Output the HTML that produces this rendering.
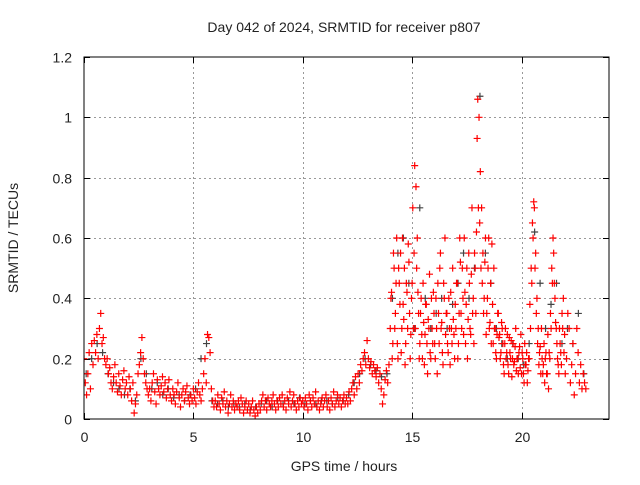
<!DOCTYPE html>
<html><head><meta charset="utf-8"><style>
body{margin:0;background:#fff}
svg text{font-family:"Liberation Sans",sans-serif;font-size:14px;fill:#222}
</style></head><body>
<svg id="chart" width="640" height="480" xmlns="http://www.w3.org/2000/svg">
<rect width="640" height="480" fill="#fff"/>
<text x="344" y="32" text-anchor="middle">Day 042 of 2024, SRMTID for receiver p807</text>
<text x="344" y="471" text-anchor="middle">GPS time / hours</text>
<text x="18" y="238" text-anchor="middle" transform="rotate(-90 18 238)">SRMTID / TECUs</text>
<g id="grid"></g>
<g id="ticks"></g>
<defs><clipPath id="clip"><rect x="84" y="57" width="525" height="362"/></clipPath></defs>
<g id="marks" clip-path="url(#clip)"></g>
<rect x="84" y="57" width="525" height="362" fill="none" stroke="#000" stroke-width="1"/>
</svg>
<script>
const xTicks=[0,5,10,15,20];
const yTicks=[0,0.2,0.4,0.6,0.8,1,1.2];
const yTickLabels=["0","0.2","0.4","0.6","0.8","1","1.2"];
const redStep=1/17;
const redValues=[
0.2,0.12,0.08,0.15,0.22,0.1,0.25,0.18,0.26,0.22,0.28,0.2,0.3,0.35,0.25,0.27,0.2,
0.18,0.2,0.15,0.17,0.12,0.1,0.14,0.18,0.12,0.09,0.15,0.11,0.08,0.13,0.16,0.1,0.12,
0.08,0.14,0.1,0.06,0.12,0.02,0.05,0.08,0.15,0.18,0.22,0.27,0.2,0.15,0.12,0.1,0.08,
0.1,0.06,0.12,0.15,0.09,0.05,0.13,0.1,0.08,0.11,0.14,0.09,0.12,0.07,0.1,0.13,0.08,
0.06,0.1,0.08,0.05,0.09,0.12,0.07,0.04,0.08,0.1,0.06,0.09,0.11,0.07,0.05,0.08,0.06,
0.1,0.07,0.05,0.09,0.12,0.08,0.06,0.1,0.15,0.2,0.12,0.28,0.27,0.22,0.1,0.06,0.04,
0.06,0.04,0.08,0.05,0.03,0.07,0.05,0.09,0.04,0.06,0.02,0.05,0.08,0.04,0.06,0.03,0.05,
0.04,0.06,0.03,0.07,0.05,0.02,0.04,0.06,0.03,0.05,0.02,0.04,0.06,0.03,0.01,0.04,0.02,
0.05,0.03,0.06,0.08,0.04,0.06,0.03,0.07,0.05,0.04,0.06,0.08,0.05,0.03,0.06,0.04,0.07,
0.05,0.08,0.04,0.06,0.03,0.07,0.05,0.09,0.04,0.06,0.08,0.05,0.03,0.06,0.04,0.07,0.05,
0.06,0.04,0.07,0.05,0.03,0.08,0.06,0.04,0.07,0.05,0.09,0.04,0.06,0.03,0.05,0.07,0.04,
0.06,0.08,0.04,0.06,0.03,0.07,0.05,0.09,0.04,0.06,0.08,0.05,0.07,0.04,0.06,0.08,0.05,
0.07,0.05,0.09,0.06,0.1,0.12,0.08,0.14,0.1,0.15,0.12,0.18,0.16,0.2,0.22,0.18,0.26,
0.2,0.17,0.19,0.15,0.18,0.16,0.14,0.17,0.12,0.15,0.1,0.05,0.08,0.13,0.16,0.12,0.18,
0.3,0.42,0.25,0.5,0.35,0.6,0.2,0.45,0.55,0.3,0.38,0.5,0.25,0.42,0.58,0.35,0.28,
0.45,0.3,0.84,0.77,0.6,0.35,0.25,0.4,0.2,0.32,0.28,0.38,0.15,0.3,0.22,0.4,0.25,
0.35,0.2,0.3,0.45,0.25,0.55,0.32,0.18,0.4,0.28,0.35,0.22,0.3,0.42,0.25,0.33,0.2,
0.3,0.45,0.25,0.6,0.35,0.5,0.28,0.42,0.38,0.2,0.55,0.3,0.48,0.35,0.25,0.5,0.62,
1.06,1.0,0.82,0.7,0.55,0.4,0.6,0.35,0.5,0.3,0.45,0.58,0.25,0.3,0.22,0.28,0.35,
0.28,0.22,0.3,0.18,0.25,0.2,0.28,0.15,0.22,0.26,0.2,0.18,0.24,0.16,0.2,0.22,0.17,
0.15,0.2,0.12,0.18,0.22,0.16,0.2,0.3,0.45,0.6,0.7,0.55,0.4,0.3,0.22,0.15,0.2,
0.18,0.12,0.22,0.15,0.1,0.2,0.3,0.45,0.55,0.4,0.3,0.2,0.15,0.25,0.18,0.3,0.22,
0.15,0.2,0.35,0.3,0.12,0.18,0.25,0.08,0.15,0.3,0.22,0.12,0.18,0.1,0.15,0.12,0.1];
const red2Start=14.03;
const red2Values=[
0.4,0.2,0.55,0.3,0.45,0.25,0.5,0.38,0.22,0.6,0.33,0.18,0.45,0.3,0.52,0.2,0.4,
0.7,0.55,0.3,0.5,0.42,0.2,0.35,0.28,0.45,0.18,0.38,0.25,0.33,0.48,0.2,0.3,0.42,
0.25,0.4,0.15,0.35,0.5,0.3,0.22,0.45,0.6,0.35,0.25,0.4,0.18,0.3,0.5,0.28,0.38,
0.45,0.2,0.35,0.52,0.3,0.4,0.6,0.25,0.5,0.33,0.45,0.28,0.7,0.4,0.55,0.35,0.93,
0.7,0.65,0.5,0.45,0.35,0.52,0.28,0.4,0.6,0.32,0.25,0.38,0.5,0.3,0.2,0.35,0.27,
0.2,0.32,0.25,0.15,0.3,0.22,0.18,0.27,0.2,0.14,0.25,0.19,0.3,0.2,0.15,0.24,0.28,
0.22,0.15,0.25,0.18,0.12,0.2,0.38,0.5,0.65,0.72,0.5,0.35,0.25,0.18,0.24,0.3,0.15,
0.25,0.2,0.15,0.28,0.22,0.35,0.5,0.6,0.45,0.32,0.25,0.18,0.3,0.22,0.35,0.4,0.28];
const grayStep=0.25;
const grayValues=[0.15,0.2,0.25,0.22,0.15,0.12,0.1,0.08,0.1,0.06,0.2,0.15,0.1,0.12,0.08,0.1,
0.07,0.08,0.06,0.08,0.1,0.2,0.25,0.06,0.05,0.06,0.04,0.05,0.04,0.05,0.03,0.04,
0.05,0.06,0.04,0.06,0.05,0.06,0.05,0.07,0.05,0.06,0.05,0.06,0.06,0.05,0.07,0.06,
0.08,0.12,0.15,0.2,0.18,0.16,0.14,0.15,0.4,0.55,0.6,0.45,0.3,0.7,0.4,0.3,
0.35,0.4,0.3,0.38,0.45,0.55,0.4,0.5,1.07,0.55,0.45,0.3,0.25,0.2,0.25,0.2,
0.18,0.25,0.62,0.45,0.3,0.38,0.45,0.25,0.3,0.25,0.35,0.15];

const X0=84,X1=609,Y0=419,Y1=57,XMAX=24,YMAX=1.2;
function sx(v){return X0+(X1-X0)*v/XMAX;}
function sy(v){return Y0-(Y0-Y1)*v/YMAX;}
const NS="http://www.w3.org/2000/svg";
const grid=document.getElementById('grid'),ticks=document.getElementById('ticks'),marks=document.getElementById('marks');
function line(p,x1,y1,x2,y2,st,dash){const l=document.createElementNS(NS,'line');l.setAttribute('x1',x1);l.setAttribute('y1',y1);l.setAttribute('x2',x2);l.setAttribute('y2',y2);l.setAttribute('stroke',st);l.setAttribute('stroke-width',1);if(dash)l.setAttribute('stroke-dasharray',dash);p.appendChild(l);return l;}
function txt(x,y,s,anc){const t=document.createElementNS(NS,'text');t.setAttribute('x',x);t.setAttribute('y',y);t.setAttribute('text-anchor',anc);t.textContent=s;document.getElementById('chart').appendChild(t);return t;}
xTicks.forEach(v=>{const x=Math.round(sx(v))+0.5;
 if(v>0){const g=line(grid,x,Y1,x,Y0,'#999','2,3');}
 line(ticks,x,Y0,x,Y0-6,'#000');line(ticks,x,Y1,x,Y1+6,'#000');
 const t=txt(x,442,String(v),'middle');});
yTicks.forEach((v,i)=>{const y=Math.round(sy(v))+0.5;
 if(v>0&&v<YMAX){const g=line(grid,X0,y,X1,y,'#999','2,3');}
 line(ticks,X0,y,X0+6,y,'#000');line(ticks,X1,y,X1-6,y,'#000');
 const t=txt(72,y+5,yTickLabels[i],'end');});
function plus(t,v,col,name){const x=sx(t),y=sy(v);const p=document.createElementNS(NS,'path');
 p.setAttribute('d',`M${x-3.5} ${y}H${x+3.5}M${x} ${y-3.5}V${y+3.5}`);p.setAttribute('stroke',col);p.setAttribute('stroke-width',1.2);
 
 
 marks.appendChild(p);}
grayValues.forEach((v,i)=>plus(0.1+i*grayStep,v,'#444','gray-point'));
redValues.forEach((v,i)=>plus(i*redStep,v,'#ff0000','red-point'));
red2Values.forEach((v,i)=>plus(red2Start+i*redStep,v,'#ff0000','red-point'));
</script>
</body></html>
